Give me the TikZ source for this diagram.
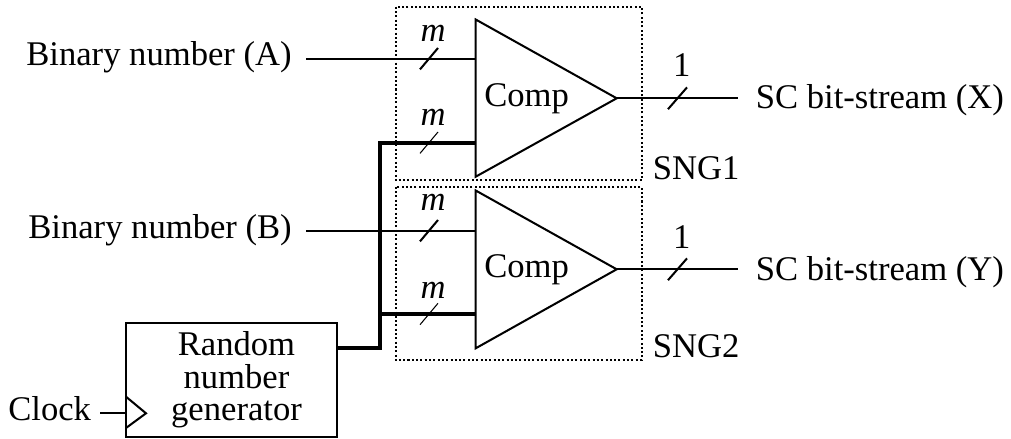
\documentclass[tikz,border=0pt]{standalone}
\usepackage{fontspec}
\setmainfont{Liberation Serif}
\usetikzlibrary{calc}

\tikzset{
	lbl/.style={inner sep=0pt,anchor=base west,font=\fontsize{19.7}{18.5}\selectfont},
	buslbl/.style={inner sep=0pt,anchor=base,font=\fontsize{19.7}{18.5}\selectfont\itshape},
	wire/.style={line width=1.15pt},
	bus/.style={line width=2.4pt},
	sngbox/.style={line width=1.15pt,dash pattern=on 1.15pt off 1.3pt},
	comp/.style={line width=1.15pt,line join=miter},
}

\begin{document}
\begin{tikzpicture}[x=0.02cm,y=-0.02cm]
		\useasboundingbox (0,0) rectangle (1011,439);
		% SNG boxes
		\draw[sngbox] (395.7,6.7) rectangle (641.7,180.3);
		\draw[sngbox] (395.7,186.7) rectangle (641.7,360);
		\node[lbl] (sngA) at (652.5,179.3) {SNG1};
		\node[lbl] (sngB) at (652.5,357) {SNG2};
		% comparators
		\coordinate (compAtop) at (475.7,19.5);
		\coordinate (compAbot) at (475.7,176.7);
		\coordinate (compAout) at (616.7,98.3);
		\coordinate (compBtop) at (475.7,190.5);
		\coordinate (compBbot) at (475.7,348.3);
		\coordinate (compBout) at (616.7,269.3);
		\draw[comp] (compAtop) -- (compAout) -- (compAbot) -- cycle;
		\draw[comp] (compBtop) -- (compBout) -- (compBbot) -- cycle;
		\node[lbl] (compAlbl) at (484,106.7) {Comp};
		\node[lbl] (compBlbl) at (484,277.5) {Comp};
		% inputs
		\node[lbl] (binA) at (26,66) {Binary number (A)};
		\node[lbl] (binB) at (28,238) {Binary number (B)};
		\coordinate (inAs) at (306,58.7);
		\coordinate (inAe) at (475.7,58.7);
		\coordinate (inBs) at (306,230.7);
		\coordinate (inBe) at (475.7,230.7);
		\draw[wire] (inAs) -- (inAe);
		\draw[wire] (inBs) -- (inBe);
		% random number generator
		\node[draw,line width=1.15pt,minimum width=4.226cm,minimum height=2.268cm,inner sep=0pt] (rng) at (231.7,380) {};
		\node[inner sep=0pt,align=center,font=\fontsize{19.7}{18.5}\selectfont] (rnglbl) at (236.5,380) {Random\\number\\generator};
		\coordinate (rngout) at (337.3,347.7);
		\coordinate (busj) at (380,347.7);
		\coordinate (busAt) at (380,142.7);
		\coordinate (busAe) at (475.7,142.7);
		\coordinate (busBs) at (380,314);
		\coordinate (busBe) at (475.7,314);
		\draw[bus,line join=miter] (rngout) -- (busj) -- (busAt) -- (busAe);
		\draw[bus] (busBs) -- (busBe);
		% clock
		\node[lbl] (clk) at (8,420) {Clock};
		\coordinate (clks) at (100,413.3);
		\coordinate (clke) at (126,413.3);
		\draw[wire] (clks) -- (clke);
		\draw[comp] (126,396.7) -- (146,413.3) -- (126,428);
		% outputs
		\node[lbl] (outX) at (755.5,109) {SC bit-stream (X)};
		\node[lbl] (outY) at (755.5,280) {SC bit-stream (Y)};
		\coordinate (outAe) at (738,98.3);
		\coordinate (outBe) at (738,269.3);
		\draw[wire] (compAout) -- (outAe);
		\draw[wire] (compBout) -- (outBe);
		% bus widths
		\node[buslbl] (mA) at (433,41.7) {m};
		\node[buslbl] (mB) at (433,126) {m};
		\node[buslbl] (mC) at (433,210.7) {m};
		\node[buslbl] (mD) at (433,298) {m};
		\node[lbl,anchor=base] (oneA) at (681.7,76.7) {1};
		\node[lbl,anchor=base] (oneB) at (681.7,248) {1};
		\draw[wire] (429,58.7) ++(-9,10.7) -- ++(18,-21.4);
		\draw[wire] (429,230.7) ++(-9,10.7) -- ++(18,-21.4);
		\draw[line width=.6pt] (429,142.7) ++(-9,10.7) -- ++(18,-21.4);
		\draw[line width=.6pt] (429,314) ++(-9,10.7) -- ++(18,-21.4);
		\draw[wire] (677.5,98.3) ++(-9.5,10.9) -- ++(19,-21.8);
		\draw[wire] (677.5,269.3) ++(-9.5,10.9) -- ++(19,-21.8);
	\end{tikzpicture}
\end{document}
